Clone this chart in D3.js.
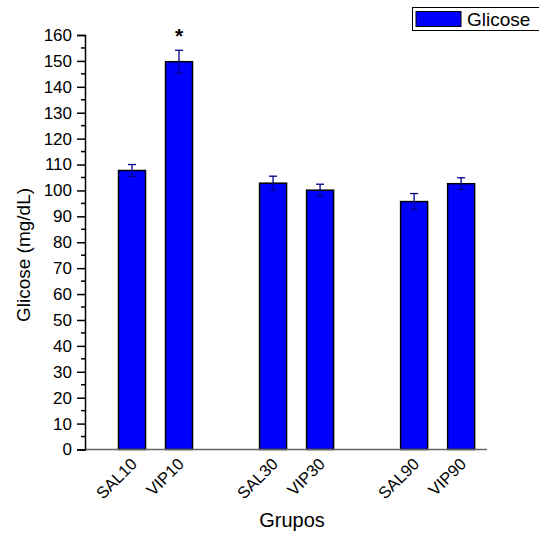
<!DOCTYPE html>
<html>
<head>
<meta charset="utf-8">
<script src="https://cdn.jsdelivr.net/npm/d3@7"></script>
<style>
body { margin: 0; background: #fff; }
text { font-family: "Liberation Sans", Arial, sans-serif; }
</style>
</head>
<body>
<svg width="539" height="533"></svg>
<script>
"use strict";

var groups = ["SAL10", "VIP10", "SAL30", "VIP30", "SAL90", "VIP90"];
var slots = [1, 2, 4, 5, 7, 8];
var glicose = [107.7, 149.7, 102.8, 100.1, 95.7, 102.6];
var erro = [2.3, 4.4, 2.7, 2.3, 3.1, 2.3];
var yTicks = d3.range(0, 161, 10);
var yMinor = d3.range(5, 160, 10);
var signif = ["", "*", "", "", "", ""];

var svg = d3.select('svg');

var x = d3.scaleLinear().domain([0, 8.55]).range([85, 487]);
var y = d3.scaleLinear().domain([0, 160]).range([449.5, 35]);
var barW = 27;

var data = groups.map(function(g, i) {
	return {name: g, slot: slots[i], v: glicose[i], e: erro[i], s: signif[i]};
});

// bars
svg.selectAll('rect.bar').data(data).enter().append('rect')
	.attr('class', 'bar')
	.attr('x', function(d) {return x(d.slot) - barW / 2})
	.attr('y', function(d) {return y(d.v)})
	.attr('width', barW)
	.attr('height', function(d) {return y(0) - y(d.v)})
	.attr('fill', '#0000ff')
	.attr('stroke', '#000')
	.attr('stroke-width', 1.5);

// error bars
var eb = svg.selectAll('g.err').data(data).enter().append('g')
	.attr('class', 'err')
	.attr('stroke', '#00008b')
	.attr('stroke-width', 1.3);
eb.append('line')
	.attr('x1', function(d) {return x(d.slot)})
	.attr('x2', function(d) {return x(d.slot)})
	.attr('y1', function(d) {return y(d.v + d.e)})
	.attr('y2', function(d) {return y(d.v - d.e)});
eb.append('line')
	.attr('x1', function(d) {return x(d.slot) - 4})
	.attr('x2', function(d) {return x(d.slot) + 4})
	.attr('y1', function(d) {return y(d.v + d.e)})
	.attr('y2', function(d) {return y(d.v + d.e)});
eb.append('line')
	.attr('x1', function(d) {return x(d.slot) - 4})
	.attr('x2', function(d) {return x(d.slot) + 4})
	.attr('y1', function(d) {return y(d.v - d.e)})
	.attr('y2', function(d) {return y(d.v - d.e)});

// asterisk
svg.selectAll('text.sig').data(data).enter().append('text')
	.attr('class', 'sig')
	.attr('x', function(d) {return x(d.slot)})
	.attr('y', 43)
	.attr('text-anchor', 'middle')
	.attr('font-size', 21)
	.attr('font-weight', 'bold')
	.text(function(d) {return d.s});

// x axis line
svg.append('line')
	.attr('x1', x(0)).attr('x2', x(8.55))
	.attr('y1', y(0)).attr('y2', y(0))
	.attr('stroke', '#666')
	.attr('stroke-width', 1.5);

// y axis
var yAxis = svg.append('g')
	.attr('transform', 'translate(' + x(0) + ',0)')
	.call(d3.axisLeft(y).tickValues(yTicks).tickSize(8).tickPadding(5));
yAxis.select('.domain').attr('stroke', '#000').attr('stroke-width', 1.5);
yAxis.selectAll('.tick line').attr('stroke', '#000').attr('stroke-width', 1.5);
yAxis.selectAll('.tick text').attr('font-size', 17).attr('fill', '#000')
	.style('font-family', '"Liberation Sans", Arial, sans-serif');
yAxis.selectAll('line.minor').data(yMinor).enter().append('line')
	.attr('class', 'minor')
	.attr('x1', -4).attr('x2', 0)
	.attr('y1', function(d) {return y(d)})
	.attr('y2', function(d) {return y(d)})
	.attr('stroke', '#000')
	.attr('stroke-width', 1.5);

// x labels
svg.selectAll('text.xl').data(data).enter().append('text')
	.attr('class', 'xl')
	.attr('text-anchor', 'end')
	.attr('font-size', 16.5)
	.attr('transform', function(d) {return 'translate(' + (x(d.slot) + 6) + ',465) rotate(-45)'})
	.text(function(d) {return d.name});

// titles
svg.append('text')
	.attr('x', 292).attr('y', 527)
	.attr('text-anchor', 'middle')
	.attr('font-size', 20)
	.text('Grupos');
svg.append('text')
	.attr('transform', 'translate(30,255) rotate(-90)')
	.attr('text-anchor', 'middle')
	.attr('font-size', 19)
	.text('Glicose (mg/dL)');

// legend
var leg = svg.append('g');
leg.append('rect')
	.attr('x', 412.5).attr('y', 7.5)
	.attr('width', 140).attr('height', 23)
	.attr('fill', '#fff')
	.attr('stroke', '#000');
leg.append('rect')
	.attr('x', 416).attr('y', 11.5)
	.attr('width', 45).attr('height', 15)
	.attr('fill', '#0000ff')
	.attr('stroke', '#000');
leg.append('text')
	.attr('x', 467).attr('y', 26)
	.attr('font-size', 19)
	.text('Glicose');
</script>
</body>
</html>
